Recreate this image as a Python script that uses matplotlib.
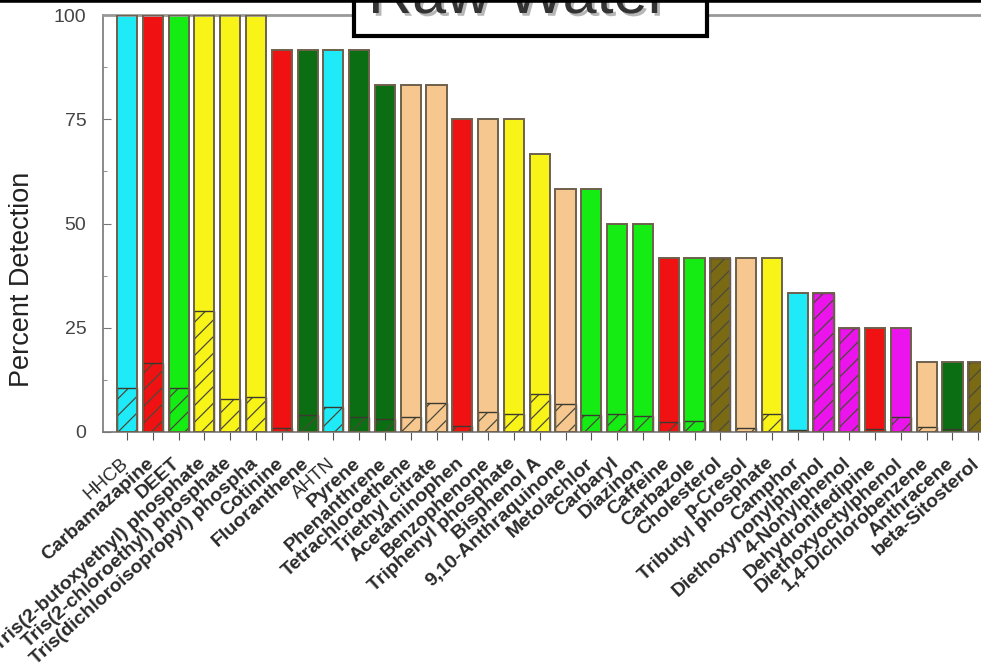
import matplotlib
matplotlib.use("Agg")
import matplotlib.pyplot as plt
import matplotlib.patheffects as pe
from matplotlib.patches import Rectangle
from matplotlib.lines import Line2D

plt.rcParams['font.family'] = ['Liberation Sans', 'DejaVu Sans']
plt.rcParams['hatch.linewidth'] = 0.9

compounds = [
    "HHCB", "Carbamazapine", "DEET", "Tris(2-butoxyethyl) phosphate",
    "Tris(2-chloroethyl) phosphate", "Tris(dichloroisopropyl) phospha",
    "Cotinine", "Fluoranthene", "AHTN", "Pyrene", "Phenanthrene",
    "Tetrachloroethene", "Triethyl citrate", "Acetaminophen", "Benzophenone",
    "Triphenyl phosphate", "Bisphenol A", "9,10-Anthraquinone", "Metolachlor",
    "Carbaryl", "Diazinon", "Caffeine", "Carbazole", "Cholesterol", "p-Cresol",
    "Tributyl phosphate", "Camphor", "Diethoxynonylphenol", "4-Nonylphenol",
    "Dehydronifedipine", "Diethoxyoctylphenol", "1,4-Dichlorobenzene",
    "Anthracene", "beta-Sitosterol",
]

# percent of samples with a detection
detection = [100, 100, 100, 100, 100, 100, 91.7, 91.7, 91.7, 91.7, 83.3,
             83.3, 83.3, 75, 75, 75, 66.7, 58.3, 58.3, 50, 50, 41.7, 41.7,
             41.7, 41.7, 41.7, 33.3, 33.3, 25, 25, 25, 16.7, 16.7, 16.7]

# hatched part of each bar
hatched = [10.5, 16.5, 10.5, 29, 8, 8.5, 1, 4, 6, 3.5, 3, 3.5, 7, 1.5, 4.8,
           4.2, 9, 6.8, 4, 4.2, 3.8, 2.5, 2.6, 41.7, 1, 4.2, 0.5, 33.3, 25,
           0.8, 3.6, 1.2, 0.6, 16.7]

cyan = '#1FEAF8'
red = '#F01212'
lime = '#14EC14'
yellow = '#F9F417'
dkgreen = '#0C6E12'
tan = '#F6C78F'
olive = '#7A6A14'
magenta = '#EC14EC'

bar_colors = [cyan, red, lime, yellow, yellow, yellow, red, dkgreen, cyan,
              dkgreen, dkgreen, tan, tan, red, tan, yellow, yellow, tan, lime,
              lime, lime, red, lime, olive, tan, yellow, cyan, magenta,
              magenta, red, magenta, tan, dkgreen, olive]

plain_labels = ["HHCB", "AHTN"]

fig = plt.figure(figsize=(9.81, 6.65), dpi=100)
ax = fig.add_axes([0.105, 0.3504, 0.9185, 0.627])

x = list(range(len(compounds)))
w = 0.78

ax.bar(x, detection, width=w, color=bar_colors, edgecolor='none', zorder=2)
ax.bar(x, hatched, width=w, color=bar_colors, edgecolor='#4a4a3a',
       hatch='//', linewidth=0, zorder=3)
ax.bar(x, hatched, width=w, fill=False, edgecolor='#3a3a30',
       linewidth=1.0, zorder=4)
ax.bar(x, detection, width=w, fill=False, edgecolor='#6e604c',
       linewidth=1.4, zorder=5)

ax.set_xlim(-0.93, 34.0)
ax.set_ylim(0, 100)

ax.set_yticks([0, 25, 50, 75, 100])
ax.set_yticks([12.5, 37.5, 62.5, 87.5], minor=True)
ax.tick_params(axis='y', which='major', direction='in', length=6,
               color='#777777', labelsize=14, labelcolor='#444444', pad=12)
ax.tick_params(axis='y', which='minor', direction='in', length=3,
               color='#777777')

ax.set_xticks(x)
ax.set_xticklabels([])
ax.tick_params(axis='x', direction='out', length=6, color='#555555')
for xi, name in zip(x, compounds):
    bold = name not in plain_labels
    ax.text(xi - 0.25, -5.5, name, rotation=42, rotation_mode='anchor',
            ha='right', va='top', fontsize=14 if bold else 13.5,
            fontweight='bold' if bold else 'normal', color='#2a2a2a')

ax.set_ylabel("Percent Detection", fontsize=19.5, color='#222222')
ax.yaxis.set_label_coords(-0.0755, 0.367)

for side in ['left', 'bottom']:
    ax.spines[side].set_color('#777777')
    ax.spines[side].set_linewidth(1.2)
ax.spines['top'].set_color('#999999')
ax.spines['top'].set_linewidth(2)
ax.spines['right'].set_visible(False)

# boxed title over the top edge
fig.add_artist(Rectangle((354 / 981, 1 - 36 / 665), 353 / 981, 60 / 665,
                         transform=fig.transFigure, facecolor='white',
                         edgecolor='black', linewidth=3, zorder=10))
fig.text(368 / 981, 1 - 13 / 665, "Raw Water", fontsize=44,
         color='#333333', ha='left', va='baseline', zorder=11,
         path_effects=[pe.withSimplePatchShadow(offset=(2, -2),
                                                shadow_rgbFace='#888888',
                                                alpha=0.6)])

fig.add_artist(Line2D([0, 1], [1, 1], transform=fig.transFigure,
                      color='black', linewidth=4, zorder=12))

fig.savefig("out.png", dpi=100)
